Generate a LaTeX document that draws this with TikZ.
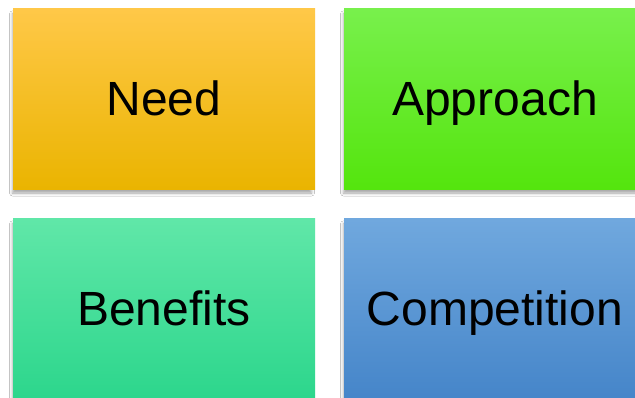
\documentclass[tikz,border=0pt]{standalone}
\usepackage{fontspec}
\setmainfont{Liberation Sans}
\usetikzlibrary{shadows.blur}
\definecolor{needtop}{HTML}{FFC848}
\definecolor{needmid}{HTML}{FFC800}
\definecolor{needbot}{HTML}{EAB400}
\definecolor{apptop}{HTML}{78F04C}
\definecolor{appmid}{HTML}{5CF016}
\definecolor{appbot}{HTML}{54E50D}
\definecolor{bentop}{HTML}{60E7A8}
\definecolor{benmid}{HTML}{34E39A}
\definecolor{benbot}{HTML}{2CD68C}
\definecolor{comptop}{HTML}{70A8DE}
\definecolor{compmid}{HTML}{5797D5}
\definecolor{compbot}{HTML}{4585C9}
\tikzset{
  card/.style={rectangle, minimum width=302pt, minimum height=181pt,
    inner sep=0pt, font=\fontsize{48}{56}\selectfont, text=black,
    text height=32pt, text depth=0pt,
    blur shadow={shadow xshift=-2pt, shadow yshift=-4pt, shadow scale=0.99,
      shadow blur radius=3pt, shadow opacity=35}},
  cardshade/.style n args={3}{top color=#1, middle color=#2, bottom color=#3}
}
\begin{document}
\begin{tikzpicture}[x=1pt,y=1pt]
  \useasboundingbox[fill=white] (0,0) rectangle (635,-398);
  \begin{scope}
    \clip (0,0) rectangle (635,-398);
    \node[card, cardshade={needtop}{needmid}{needbot}] (need) at (164,-99.5) {Need};
    \node[card, cardshade={apptop}{appmid}{appbot}] (approach) at (495,-99.5) {Approach};
    \node[card, cardshade={bentop}{benmid}{benbot}] (benefits) at (164,-309.5) {Benefits};
    \node[card, cardshade={comptop}{compmid}{compbot}] (competition) at (495,-309.5) {Competition};
  \end{scope}
\end{tikzpicture}
\end{document}
